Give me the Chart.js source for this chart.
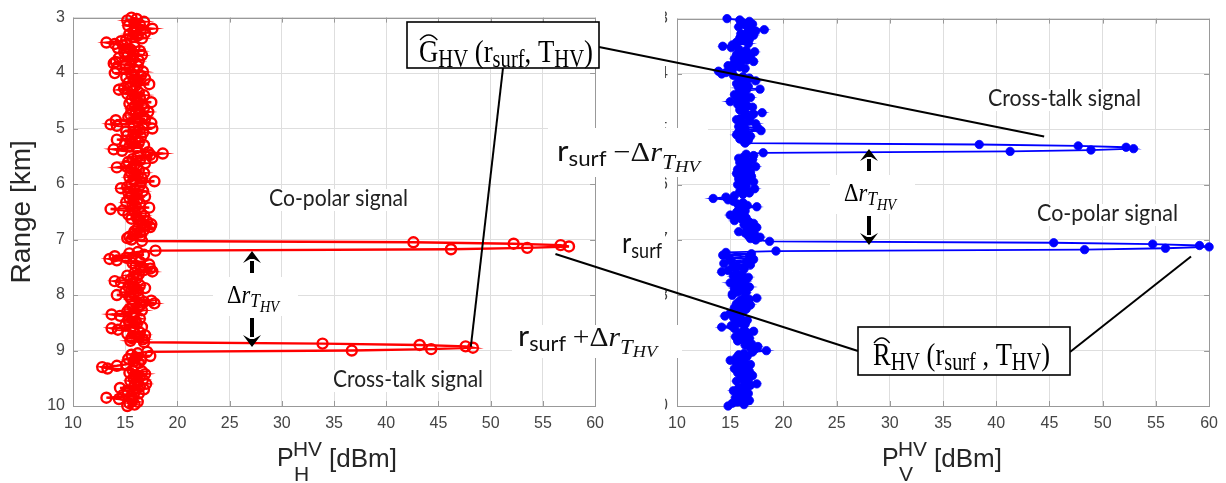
<!DOCTYPE html>
<html>
<head>
<meta charset="utf-8">
<script src="https://cdn.jsdelivr.net/npm/chart.js@4.4.1/dist/chart.umd.min.js"></script>
<style>
  html, body { margin: 0; padding: 0; background: #fff; }
  #wrap { position: relative; width: 1226px; height: 483px; overflow: hidden; }
  .pane { position: absolute; top: 0; }
  #paneH { left: 0; }
  #paneV { left: 612px; }
  #over { position: absolute; left: 0; top: 0; pointer-events: none; }
</style>
</head>
<body>
<div id="wrap">
  <div class="pane" id="paneH"><canvas id="chartH" width="612" height="483"></canvas></div>
  <div class="pane" id="paneV"><canvas id="chartV" width="614" height="483"></canvas></div>
  <canvas id="over" width="1226" height="483"></canvas>
</div>
<script>
// range bins: 3 km to 10 km, 25 m apart
const rangeStart = 3;
const rangeStep = 0.025;

// received power, H channel [dBm] (one value per range bin)
const powerH = [
  15.6, 16.1, 15.2, 16.8, 15.9, 16.4, 15.3, 16.0, 17.6, 16.5, 15.8, 16.9, 15.4, 16.2, 15.7, 16.6, 15.1, 14.6, 13.2, 14.0,
  14.8, 15.9, 14.3, 15.5, 16.4, 14.9, 15.8, 16.6, 15.2, 14.4, 15.7, 16.3, 14.1, 13.9, 15.0, 16.2, 15.4, 14.2, 15.9, 16.7,
  14.0, 15.6, 16.5, 15.1, 16.9, 15.8, 16.2, 15.3, 17.3, 16.0, 15.5, 14.9, 14.4, 15.7, 16.3, 15.2, 16.8, 15.9, 16.4, 15.6,
  16.1, 17.5, 15.4, 16.6, 15.9, 16.8, 15.6, 16.3, 17.2, 16.0, 15.5, 16.7, 15.3, 16.9, 14.1, 16.2, 17.5, 13.6, 14.2, 15.8,
  17.6, 16.4, 15.1, 16.7, 15.8, 15.2, 16.5, 16.0, 14.2, 15.5, 16.3, 15.0, 16.8, 15.4, 16.1, 13.9, 14.7, 17.2, 18.6, 17.4,
  16.2, 17.6, 15.7, 16.4, 15.3, 16.9, 15.9, 15.1, 14.2, 15.6, 16.3, 15.5, 16.8, 15.9, 16.2, 15.4, 16.6, 15.8, 17.8, 16.5,
  15.6, 16.4, 15.2, 14.6, 15.9, 16.7, 15.3, 16.1, 15.6, 16.9, 15.4, 16.2, 15.8, 15.1, 16.4, 15.7, 16.0, 17.3, 13.6, 14.8,
  15.9, 16.5, 15.3, 16.8, 16.1, 15.6, 16.3, 17.1, 16.6, 17.5, 16.9, 17.4, 16.2, 16.8, 15.9, 16.4, 15.8, 16.5, 15.4, 15.2,
  15.6, 16.6, 42.6, 52.2, 56.7, 57.5, 53.5, 46.2, 17.9, 16.2, 15.4, 16.8, 14.0, 15.1, 13.5, 14.2, 16.4, 15.7, 17.3, 16.0,
  16.5, 17.4, 16.8, 17.6, 15.9, 16.3, 15.2, 15.8, 16.1, 15.5, 14.0, 14.6, 15.7, 16.4, 15.3, 16.9, 15.6, 16.2, 15.0, 15.8,
  14.2, 15.4, 16.3, 15.6, 17.5, 16.8, 17.8, 16.5, 15.7, 16.2, 15.4, 16.6, 15.2, 15.9, 13.7, 14.5, 15.8, 16.4, 15.3, 16.0,
  15.4, 16.1, 15.0, 16.6, 13.7, 14.3, 15.8, 16.4, 15.2, 16.9, 16.3, 15.6, 16.7, 15.5, 16.8, 33.9, 43.2, 47.6, 48.3, 44.3,
  36.7, 17.1, 16.2, 15.6, 17.4, 16.0, 15.3, 16.5, 15.8, 16.3, 15.1, 14.2, 12.8, 13.3, 15.7, 16.6, 15.4, 16.9, 15.9, 16.4,
  15.8, 16.7, 15.5, 16.2, 17.0, 15.9, 16.4, 14.5, 16.8, 15.2, 15.9, 16.3, 14.8, 15.6, 13.2, 14.4, 15.7, 16.2, 15.4, 15.9,
  15.2
];

// received power, V channel [dBm]
const powerV = [
  14.7, 15.9, 16.8, 16.2, 17.1, 16.5, 15.8, 16.9, 18.2, 17.4, 16.6, 16.0, 17.2, 16.4, 15.9, 16.8, 16.3, 15.6, 16.7, 15.2,
  14.3, 15.1, 15.8, 16.5, 17.3, 16.2, 15.6, 16.9, 16.1, 15.4, 16.6, 17.2, 16.0, 15.3, 14.8, 15.9, 16.4, 15.2, 13.9, 14.6,
  14.2, 15.3, 16.2, 16.8, 15.9, 17.4, 16.4, 15.6, 16.1, 16.7, 15.8, 17.8, 16.5, 15.9, 16.3, 15.4, 16.0, 16.9, 15.7, 16.4,
  15.0, 16.2, 15.7, 16.6, 17.1, 16.4, 15.9, 16.3, 18.0, 17.2, 16.5, 16.9, 16.0, 15.6, 16.8, 16.1, 17.4, 16.3, 15.8, 17.6,
  16.4, 17.9, 15.8, 16.5, 15.6, 16.9, 16.2, 15.9, 16.7, 16.3, 16.4, 38.4, 47.7, 52.2, 52.9, 48.9, 41.3, 18.1, 16.5, 17.2,
  16.3, 15.8, 17.1, 16.5, 15.9, 16.7, 16.2, 17.4, 16.6, 15.7, 16.4, 16.9, 15.6, 16.2, 17.0, 16.3, 15.8, 16.6, 17.2, 16.1,
  15.7, 16.5, 16.1, 17.3, 16.4, 15.9, 16.8, 16.2, 15.4, 14.6, 13.4, 14.8, 15.3, 16.2, 15.7, 16.6, 17.5, 16.3, 15.8, 16.4,
  15.6, 16.2, 15.0, 15.8, 16.5, 16.1, 15.4, 16.8, 17.2, 16.3, 16.9, 17.5, 16.6, 17.1, 15.8, 16.4, 17.3, 16.7, 17.8, 16.9,
  17.4, 18.7, 45.4, 54.7, 59.1, 60.0, 55.9, 48.3, 19.3, 14.6, 17.0, 14.3, 16.8, 14.9, 17.2, 15.1, 16.5, 14.4, 16.9, 15.6,
  15.2, 16.3, 14.8, 14.2, 15.6, 16.1, 15.3, 16.7, 15.9, 15.5, 16.4, 15.0, 16.2, 15.7, 16.8, 15.4, 16.1, 15.8, 16.5, 15.2,
  15.2, 16.4, 17.5, 16.8, 15.9, 16.3, 15.6, 16.9, 16.1, 15.4, 16.5, 15.8, 16.2, 15.0, 15.7, 14.5, 15.3, 16.0, 16.6, 15.5,
  15.9, 16.4, 15.1, 14.2, 15.4, 16.3, 17.2, 16.6, 15.8, 16.2, 15.5, 16.8, 16.1, 15.7, 16.5, 17.0, 16.4, 17.6, 16.9, 17.3,
  18.4, 17.1, 16.3, 15.8, 16.6, 15.6, 16.2, 15.0, 15.5, 16.4, 16.9, 15.9, 16.5, 15.4, 16.1, 16.8, 15.7, 16.3, 17.1, 16.6,
  16.0, 16.7, 15.6, 16.4, 17.5, 16.9, 16.2, 15.8, 16.5, 15.3, 16.1, 16.7, 15.9, 16.4, 15.5, 16.2, 16.8, 15.7, 15.2, 16.3,
  14.8
];

// axis limits / ticks
const xMin = 10, xMax = 60, xStep = 5;
const yMin = 3, yMax = 10, yStep = 1;

// where the annotation leader lines touch the data (power, range)
const anchorG_H = [48.1, 8.93];
const anchorG_V = [44.5, 5.13];
const anchorR_H = [56.2, 7.26];
const anchorR_V = [58.3, 7.30];

const rangeKm = powerH.map((_, i) => +(rangeStart + i * rangeStep).toFixed(3));
const ptsH = powerH.map((p, i) => ({ x: p, y: rangeKm[i] }));
const ptsV = powerV.map((p, i) => ({ x: p, y: rangeKm[i] }));

const SANS = '"Liberation Sans", Arial, sans-serif';
const SERIF = '"Liberation Serif", "Times New Roman", serif';
const LATO = 'Lato, "Open Sans", sans-serif';
const tickColor = '#444';
const gridColor = '#dedede';
const boxColor = '#999';

// MATLAB-like box with inward ticks
const matlabBox = {
  id: 'matlabBox',
  beforeDatasetsDraw(chart) {
    const { ctx, chartArea: a, scales } = chart;
    ctx.save();
    ctx.strokeStyle = boxColor;
    ctx.lineWidth = 1;
    ctx.strokeRect(Math.round(a.left) + 0.5, Math.round(a.top) + 0.5, Math.round(a.right - a.left), Math.round(a.bottom - a.top));
    ctx.beginPath();
    scales.x.ticks.forEach(t => {
      const p = Math.round(scales.x.getPixelForValue(t.value)) + 0.5;
      ctx.moveTo(p, a.bottom); ctx.lineTo(p, a.bottom - 5);
      ctx.moveTo(p, a.top); ctx.lineTo(p, a.top + 5);
    });
    scales.y.ticks.forEach(t => {
      const p = Math.round(scales.y.getPixelForValue(t.value)) + 0.5;
      ctx.moveTo(a.left, p); ctx.lineTo(a.left + 5, p);
      ctx.moveTo(a.right, p); ctx.lineTo(a.right - 5, p);
    });
    ctx.stroke();
    ctx.restore();
  }
};

function makeChart(id, pts, color, filled, yAxisWidth, padRight, tickPad, showTitle) {
  return new Chart(document.getElementById(id), {
    type: 'scatter',
    data: {
      datasets: [{
        data: pts,
        showLine: true,
        borderColor: color,
        borderWidth: filled ? 1.8 : 2.4,
        pointRadius: filled ? 4.2 : 5,
        pointBorderWidth: filled ? 0.8 : 2.4,
        pointBorderColor: color,
        pointBackgroundColor: filled ? color : 'rgba(0,0,0,0)',
        clip: false
      }]
    },
    options: {
      responsive: false,
      animation: false,
      devicePixelRatio: 1,
      layout: { padding: { top: 12, right: padRight, left: 0, bottom: 0 } },
      plugins: { legend: { display: false }, tooltip: { enabled: false } },
      scales: {
        x: {
          type: 'linear', min: xMin, max: xMax,
          ticks: { stepSize: xStep, color: tickColor, padding: 8, font: { family: SANS, size: 16 } },
          grid: { color: gridColor, drawTicks: false },
          border: { display: false },
          afterFit(s) { s.height = 77; }
        },
        y: {
          type: 'linear', min: yMin, max: yMax, reverse: true,
          ticks: { stepSize: yStep, color: tickColor, padding: tickPad, font: { family: SANS, size: 16 } },
          grid: { color: gridColor, drawTicks: false },
          border: { display: false },
          title: {
            display: showTitle, text: 'Range [km]', color: '#262626',
            font: { family: SANS, size: 28 }, padding: { top: 5, bottom: 0 }
          },
          afterFit(s) { s.width = yAxisWidth; }
        }
      }
    },
    plugins: [matlabBox]
  });
}

const chartH = makeChart('chartH', ptsH, '#ff0000', false, 73, 10, 8, true);
const chartV = makeChart('chartV', ptsV, '#0000ff', true, 65, 16, 9, false);

// ---------- annotations ----------
const ctx = document.getElementById('over').getContext('2d');
ctx.textBaseline = 'alphabetic';

function toPage(chart, offX, v) {
  return [chart.scales.x.getPixelForValue(v[0]) + offX, chart.scales.y.getPixelForValue(v[1])];
}

// draw a run of text pieces, squeezed to a given width
function run(x, y, parts, width, sy, color) {
  let total = 0;
  parts.forEach(p => { ctx.font = p.f; p.w = ctx.measureText(p.t).width; total += p.w; });
  const sx = width ? width / total : 1;
  const pos = [];
  ctx.save();
  ctx.fillStyle = color || '#000';
  ctx.translate(x, y);
  ctx.scale(sx, sy || 1);
  let cx = 0;
  parts.forEach(p => {
    ctx.font = p.f;
    ctx.fillText(p.t, cx, p.dy || 0);
    pos.push({ x: x + cx * sx, w: p.w * sx });
    cx += p.w;
  });
  ctx.restore();
  return pos;
}

function white(x, y, w, h) { ctx.fillStyle = '#fff'; ctx.fillRect(x, y, w, h); }

function line(a, b) {
  ctx.beginPath(); ctx.moveTo(a[0], a[1]); ctx.lineTo(b[0], b[1]);
  ctx.strokeStyle = '#000'; ctx.lineWidth = 2; ctx.stroke();
}

function arrow(x, tail, tip) {
  const dir = tip < tail ? -1 : 1;
  const head = 12;
  ctx.beginPath(); ctx.moveTo(x, tail); ctx.lineTo(x, tip - dir * head + dir * 2);
  ctx.strokeStyle = '#000'; ctx.lineWidth = 4; ctx.stroke();
  ctx.beginPath();
  ctx.moveTo(x, tip); ctx.lineTo(x - 9, tip - dir * head); ctx.lineTo(x - 2, tip - dir * (head - 4));
  ctx.lineTo(x + 2, tip - dir * (head - 4)); ctx.lineTo(x + 9, tip - dir * head); ctx.closePath();
  ctx.fillStyle = '#000'; ctx.fill();
}

function hat(p, base) {
  ctx.beginPath();
  ctx.moveTo(p.x + 1, base - 22);
  ctx.quadraticCurveTo(p.x + p.w / 2, base - 32, p.x + p.w - 1, base - 22);
  ctx.strokeStyle = '#000'; ctx.lineWidth = 1.3; ctx.stroke();
}

// white areas (hide right-hand y tick labels, text-box fills)
white(606, 0, 59, 415);
white(548, 128, 160, 49);
white(512, 325, 170, 33);
white(213, 277, 85, 39);
white(830, 175, 85, 39);

// leader lines
line([503, 68], toPage(chartH, 0, anchorG_H));
line([599, 47], toPage(chartV, 612, anchorG_V));
line([858, 351], toPage(chartH, 0, anchorR_H));
line([1070, 352], toPage(chartV, 612, anchorR_V));

// delta-r markers
function deltaR(cx, top) {
  arrow(cx, top + 22, top);
  arrow(cx, top + 67, top + 96);
  run(cx - 25, top + 52, [
    { t: 'Δ', f: `22px ${SERIF}` },
    { t: 'r', f: `italic 22px ${SERIF}` },
    { t: 'T', f: `italic 17px ${SERIF}`, dy: 4 },
    { t: 'HV', f: `italic 14px ${SERIF}`, dy: 8 }
  ], 52, 1.12);
}
deltaR(252, 251);
deltaR(869, 149);

// signal labels
function label(text, x, base, w) {
  white(x - 2, base - 17, w + 4, 22);
  run(x, base, [{ t: text, f: `21px ${LATO}` }], w, 1.08, '#222');
}
label('Co-polar signal', 269, 206, 139);
label('Cross-talk signal', 333, 387, 150);
label('Cross-talk signal', 988, 106, 153);
label('Co-polar signal', 1037, 221, 141);

// range labels between the panels
function rLabel(x, base, sign, w) {
  const parts = [
    { t: 'r', f: `27px ${LATO}` },
    { t: 'surf', f: `19px ${LATO}`, dy: 5 }
  ];
  if (sign) {
    parts.push({ t: ' ', f: `24px ${SERIF}` });
    parts.push({ t: sign, f: `26px ${SERIF}` });
    parts.push({ t: 'Δ', f: `26px ${SERIF}` });
    parts.push({ t: 'r', f: `italic 26px ${SERIF}` });
    parts.push({ t: 'T', f: `italic 20px ${SERIF}`, dy: 7 });
    parts.push({ t: 'HV', f: `italic 16px ${SERIF}`, dy: 10 });
  }
  run(x, base, parts, w, 1.08, '#111');
}
rLabel(557, 161, '\u2212', 143);
rLabel(622, 253, null, 40);
rLabel(518, 346, '+', 139);

// estimator boxes
function estBox(x, y, w, h, letter, sep, tx, tw, base) {
  ctx.fillStyle = '#fff'; ctx.fillRect(x, y, w, h);
  ctx.strokeStyle = '#000'; ctx.lineWidth = 1.6; ctx.strokeRect(x, y, w, h);
  const pos = run(tx, base, [
    { t: letter, f: `26px ${SERIF}` },
    { t: 'HV', f: `20px ${SERIF}`, dy: 4 },
    { t: ' (', f: `26px ${SERIF}` },
    { t: 'r', f: `26px ${SERIF}` },
    { t: 'surf', f: `20px ${SERIF}`, dy: 4 },
    { t: sep, f: `26px ${SERIF}` },
    { t: ' T', f: `26px ${SERIF}` },
    { t: 'HV', f: `20px ${SERIF}`, dy: 4 },
    { t: ')', f: `26px ${SERIF}` }
  ], tw, 1.22);
  hat(pos[0], base);
}
estBox(407, 22, 192, 46, 'G', ',', 419, 174, 62);
estBox(858, 327, 212, 48, 'R', ' ,', 873, 177, 365);

// x-axis titles
function xTitle(dx, sub) {
  ctx.fillStyle = '#262626';
  ctx.font = `25px ${SANS}`;
  ctx.fillText('P', 277 + dx, 466);
  run(293 + dx, 456, [{ t: 'HV', f: `21px ${SANS}` }], 29, 1, '#262626');
  run(294 + dx, 481, [{ t: sub, f: `21px ${SANS}` }], null, 1, '#262626');
  run(329 + dx, 467, [{ t: '[dBm]', f: `25px ${SANS}` }], 68, 1, '#262626');
}
xTitle(0, 'H');
xTitle(605, 'V');
</script>
</body>
</html>
